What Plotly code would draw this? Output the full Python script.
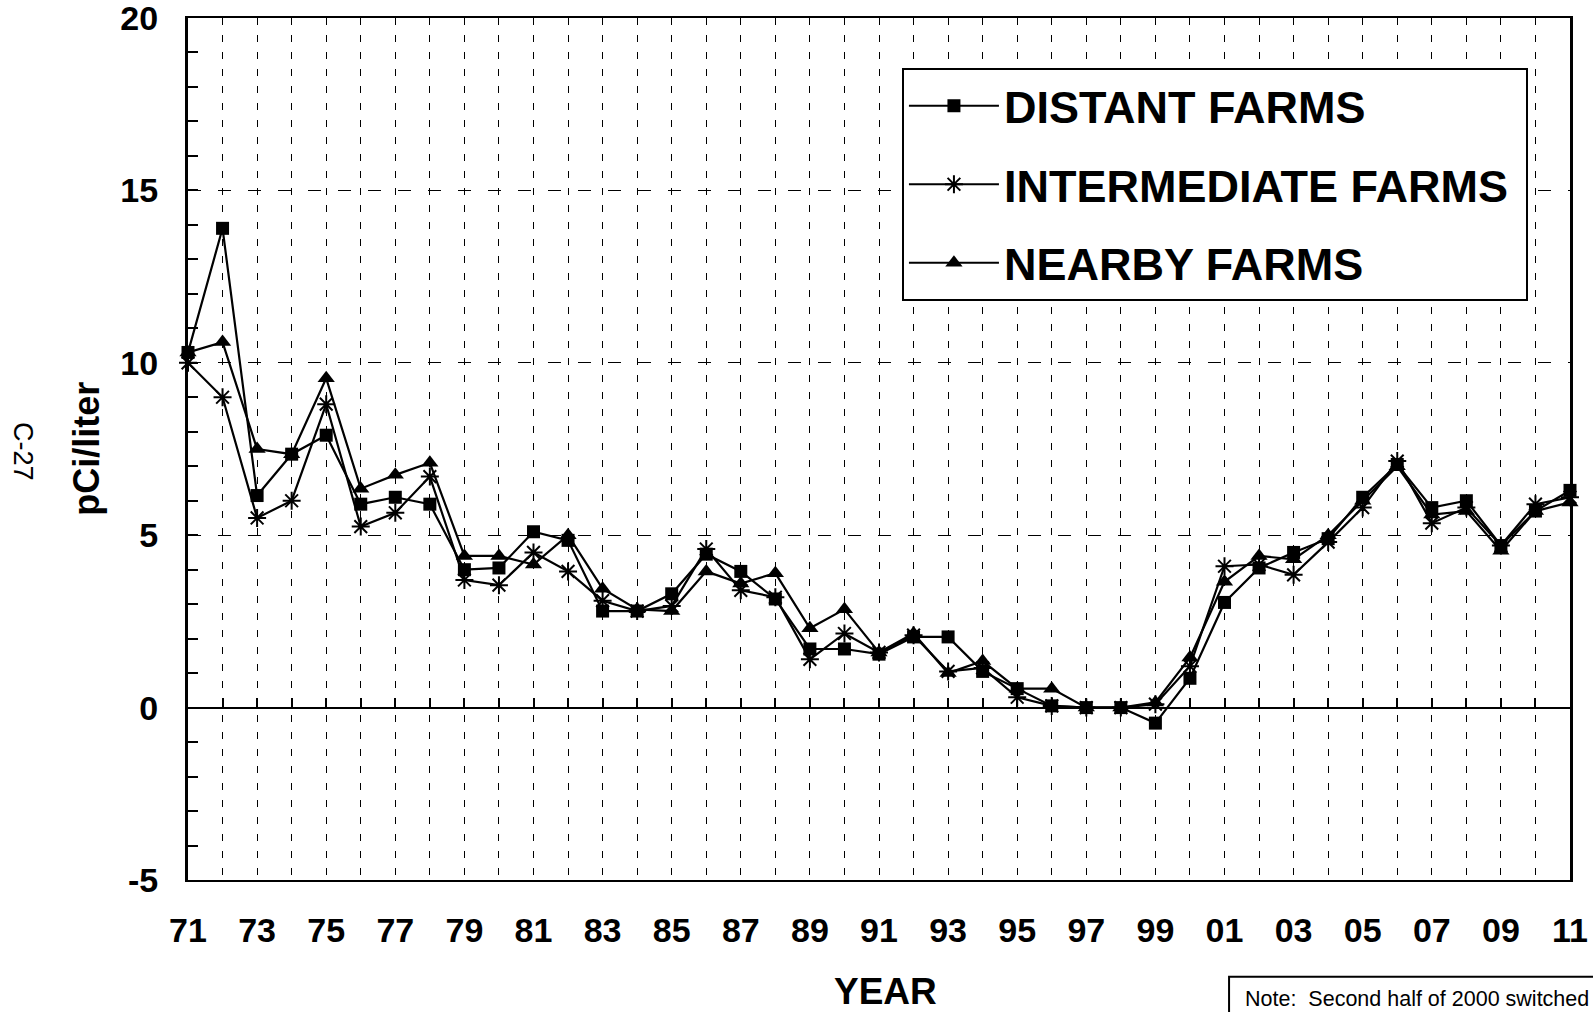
import plotly.graph_objects as go

years = list(range(1971, 2012))

distant = [10.3, 13.9, 6.15, 7.35, 7.9, 5.9, 6.1, 5.9, 4.0, 4.05,
           5.1, 4.85, 2.8, 2.8, 3.3, 4.45, 3.95, 3.15, 1.7, 1.7,
           1.55, 2.05, 2.05, 1.05, 0.55, 0.05, 0.0, 0.0, -0.45, 0.85,
           3.05, 4.05, 4.5, 4.9, 6.1, 7.05, 5.8, 6.0, 4.7, 5.7, 6.3]

intermediate = [10.0, 9.0, 5.5, 6.0, 8.8, 5.25, 5.65, 6.7, 3.7, 3.55,
                4.5, 3.95, 3.1, 2.8, 2.95, 4.6, 3.4, 3.2, 1.4, 2.15,
                1.6, 2.1, 1.05, 1.15, 0.3, 0.05, 0.0, 0.0, 0.1, 1.2,
                4.1, 4.15, 3.85, 4.8, 5.8, 7.15, 5.35, 5.8, 4.7, 5.9, 6.1]

nearby = [10.3, 10.6, 7.5, 7.35, 9.55, 6.35, 6.75, 7.1, 4.4, 4.4,
          4.15, 5.0, 3.45, 2.85, 2.8, 3.95, 3.6, 3.9, 2.3, 2.85,
          1.6, 2.15, 1.0, 1.35, 0.55, 0.55, 0.0, 0.0, 0.15, 1.45,
          3.65, 4.4, 4.3, 5.0, 6.0, 7.0, 5.6, 5.7, 4.55, 5.7, 5.95]

series_names = ["DISTANT FARMS", "INTERMEDIATE FARMS", "NEARBY FARMS"]
tick_labels = [f"{y % 100:02d}" if y % 2 == 1 else "" for y in years]
y_ticks = [-5, 0, 5, 10, 15, 20]
y_tick_text = ["-5", "0", "5", "10", "15", "20"]

FONT = "Liberation Sans, Arial, sans-serif"
PAD = "\u00a0"  # small trailing pad so the legend frame is as wide as the original

fig = go.Figure()

fig.add_trace(go.Scatter(
    x=years, y=distant, name=series_names[0] + PAD, mode="lines+markers",
    legendgroup="a", cliponaxis=False,
    line=dict(color="black", width=2.2),
    marker=dict(symbol="square", size=13, color="black"),
))
fig.add_trace(go.Scatter(
    x=years, y=intermediate, name=series_names[1] + PAD, mode="lines+markers",
    legendgroup="b", cliponaxis=False,
    line=dict(color="black", width=2.2),
    marker=dict(symbol="asterisk-open", size=15, color="black",
                line=dict(color="black", width=2)),
))
fig.add_trace(go.Scatter(
    x=years, y=nearby, name=series_names[2] + PAD, mode="lines+markers",
    legendgroup="c", cliponaxis=False,
    line=dict(color="black", width=2.2),
    marker=dict(symbol="triangle-up", size=15, color="black"),
))
# helper trace so the zero-crossing tick axis is rendered
fig.add_trace(go.Scatter(
    x=years, y=[None] * len(years), xaxis="x2", yaxis="y",
    showlegend=False, hoverinfo="skip", mode="lines",
))

fig.update_layout(
    width=1593, height=1012,
    margin=dict(l=188, r=23, t=18, b=132, autoexpand=False),
    paper_bgcolor="white", plot_bgcolor="white",
    font=dict(family=FONT, color="black"),
    showlegend=True,
    xaxis=dict(
        range=[1971, 2011], automargin=False,
        tickmode="array", tickvals=years, ticktext=tick_labels,
        tickfont=dict(size=34, weight="bold"),
        ticks="", ticklabelstandoff=19,
        showgrid=True, gridcolor="black", gridwidth=1.3, griddash="7px,10px",
        showline=True, linecolor="black", linewidth=2, mirror=True,
        zeroline=False,
    ),
    xaxis2=dict(
        range=[1971, 2011], overlaying="x", anchor="free", position=0.2,
        side="bottom", automargin=False,
        tickmode="linear", tick0=1971, dtick=1,
        ticks="inside", ticklen=9, tickwidth=2, tickcolor="black",
        showticklabels=False, showgrid=False, zeroline=False,
        showline=True, linecolor="black", linewidth=2,
    ),
    yaxis=dict(
        range=[-5, 20], automargin=False,
        tickmode="array", tickvals=y_ticks, ticktext=y_tick_text,
        tickfont=dict(size=34, weight="bold"),
        ticklabeloverflow="allow",
        ticks="inside", ticklen=10, tickwidth=2, tickcolor="black",
        ticklabelstandoff=20,
        minor=dict(dtick=1, tick0=0, ticks="inside", ticklen=10,
                   tickwidth=2, tickcolor="black", showgrid=False),
        showgrid=True, gridcolor="black", gridwidth=1.3, griddash="13px,17px",
        showline=True, linecolor="black", linewidth=3, mirror=True,
        zeroline=True, zerolinecolor="black", zerolinewidth=2,
    ),
    legend=dict(
        x=0.5166, y=0.942, xanchor="left", yanchor="top",
        bgcolor="white", bordercolor="black", borderwidth=2,
        font=dict(size=45, weight="bold", family=FONT),
        itemwidth=90, tracegroupgap=17,
    ),
    annotations=[
        dict(text="pCi/liter", xref="paper", yref="paper",
             x=-0.074, y=0.5, xanchor="center", yanchor="middle",
             textangle=-90, showarrow=False,
             font=dict(size=36, weight="bold", family=FONT)),
        dict(text="C-27", xref="paper", yref="paper",
             x=-0.119, y=0.497, xanchor="center", yanchor="middle",
             textangle=90, showarrow=False,
             font=dict(size=27, family=FONT)),
        dict(text="YEAR", xref="paper", yref="paper",
             x=0.505, y=-0.129, xanchor="center", yanchor="middle",
             showarrow=False,
             font=dict(size=37, weight="bold", family=FONT)),
        dict(text="Note:  Second half of 2000 switched", xref="paper", yref="paper",
             x=0.7634, y=-0.1376, xanchor="left", yanchor="middle",
             showarrow=False,
             font=dict(size=21.5, family=FONT)),
    ],
    shapes=[
        dict(type="rect", xref="paper", yref="paper",
             x0=0.7533, x1=1.3, y0=-0.6, y1=-0.1121,
             line=dict(color="black", width=2), fillcolor="rgba(0,0,0,0)"),
    ],
)

fig.write_html("out.html", config={"displayModeBar": False},
               post_script="document.body.style.margin='0';")
